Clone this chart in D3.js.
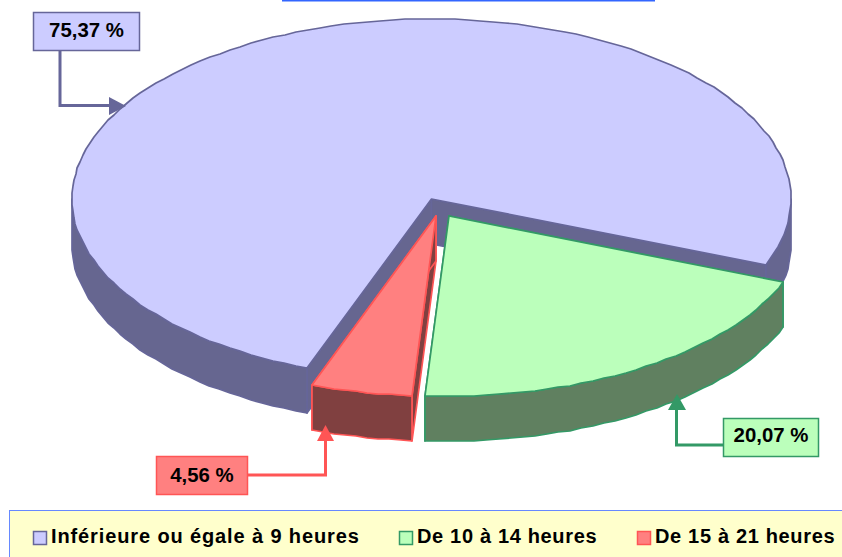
<!DOCTYPE html>
<html>
<head>
<meta charset="utf-8">
<script src="https://cdn.jsdelivr.net/npm/d3@7/dist/d3.min.js"></script>
<style>
html,body{margin:0;padding:0;background:#fff;overflow:hidden}
svg{display:block}
text{font-family:"Liberation Sans",Arial,sans-serif;font-weight:bold;fill:#000}
</style>
</head>
<body>
<svg id="c" width="842" height="557"></svg>
<script>
const categories = ["Inférieure ou égale à 9 heures", "De 10 à 14 heures", "De 15 à 21 heures"];
const values = [75.37, 20.07, 4.56];
const valueLabels = ["75,37 %", "20,07 %", "4,56 %"];
const topColors = ["#ccccff", "#bbffbb", "#ff8080"];
const wallColors = ["#666690", "#608060", "#804040"];
const lineColors = ["#666699", "#339966", "#ff5555"];

const W = 842, H = 557;
const cx = 431.5, cy = 199, rx = 359.5, ry = 180, depth = 45;
const explode = [[0, 0], [17.5, 17], [4.5, 17]];
const startDeg = 200.2;

const svg = d3.select("#c");
const sx = d3.scaleLinear().domain([-1, 1]).range([cx - rx, cx + rx]);
const sy = d3.scaleLinear().domain([-1, 1]).range([cy - ry, cy + ry]);
const pie = d3.pie().sort(null).startAngle(startDeg * Math.PI / 180)
  .endAngle((startDeg + 360) * Math.PI / 180);
const arcs = pie(values);
const line = d3.line();

function pt(a, off, dz) {
  return [Math.round(sx(Math.sin(a)) + off[0]), Math.round(sy(-Math.cos(a)) + off[1] + (dz || 0))];
}
function sweep(a0, a1) {
  const n = Math.max(2, Math.ceil((a1 - a0) / (2 * Math.PI / 180)));
  return d3.range(n + 1).map(i => a0 + (a1 - a0) * i / n);
}
function lowerRuns(a0, a1) {
  const runs = [];
  for (let k = -1; k < 3; k++) {
    const lo = Math.max(a0, Math.PI / 2 + 2 * Math.PI * k);
    const hi = Math.min(a1, 3 * Math.PI / 2 + 2 * Math.PI * k);
    if (hi > lo) runs.push([lo, hi]);
  }
  return runs;
}

arcs.forEach((d, i) => {
  const off = explode[i];
  const g = svg.append("g");
  const apex = [sx(0) + off[0], sy(0) + off[1]];
  const style = sel => sel.attr("stroke", lineColors[i]).attr("stroke-width", 1.7)
    .attr("stroke-linejoin", "round");

  // radial inner walls
  [d.startAngle, d.endAngle].forEach(a => {
    const e = pt(a, off);
    const pts = [apex, e, [e[0], e[1] + depth], [apex[0], apex[1] + depth]];
    g.append("path").attr("d", line(pts) + "Z").attr("fill", wallColors[i]).call(style);
  });
  // outer wall
  lowerRuns(d.startAngle, d.endAngle).forEach(r => {
    const as = sweep(r[0], r[1]);
    const pts = as.map(a => pt(a, off)).concat(as.slice().reverse().map(a => pt(a, off, depth)));
    g.append("path").attr("d", line(pts) + "Z").attr("fill", wallColors[i]).call(style);
  });
  // top face
  const top = [apex].concat(sweep(d.startAngle, d.endAngle).map(a => pt(a, off)));
  g.append("path").attr("d", line(top) + "Z").attr("fill", topColors[i]).call(style);
});

// fragment of the title box, cut by the top of the picture
svg.append("line").attr("x1", 282).attr("x2", 655).attr("y1", 0.5).attr("y2", 0.5)
  .attr("stroke", "#3366ff").attr("stroke-width", 2);

// value labels with leaders
const boxes = [
  {x: 33, y: 12, w: 106, h: 38, base: 25},
  {x: 723, y: 418, w: 95, h: 38, base: 24},
  {x: 156, y: 456, w: 91, h: 38, base: 25.5}
];
const leaders = [
  {path: [[60, 50], [60, 105.5], [110, 105.5]], head: [[109, 97], [109, 115], [126, 106]]},
  {path: [[723, 445], [676.5, 445], [676.5, 409]], head: [[668, 410], [686, 410], [677, 394]]},
  {path: [[247, 475], [325.5, 475], [325.5, 440]], head: [[317, 441], [334, 441], [325.5, 425]]}
];
leaders.forEach((l, i) => {
  svg.append("path").attr("d", line(l.path)).attr("fill", "none")
    .attr("stroke", lineColors[i]).attr("stroke-width", 3);
  svg.append("path").attr("d", line(l.head) + "Z").attr("fill", lineColors[i]);
});
boxes.forEach((b, i) => {
  svg.append("rect").attr("x", b.x + .5).attr("y", b.y + .5).attr("width", b.w).attr("height", b.h)
    .attr("fill", topColors[i]).attr("stroke", lineColors[i]).attr("stroke-width", 1.5);
  svg.append("text").attr("x", b.x + b.w / 2 + .5).attr("y", b.y + b.base).attr("text-anchor", "middle")
    .attr("font-size", 20.4).text(valueLabels[i]);
});

// legend
svg.append("rect").attr("x", 9.5).attr("y", 510.5).attr("width", 860).attr("height", 80)
  .attr("fill", "#ffffcc").attr("stroke", "#6688ff").attr("stroke-width", 1);
const swatchX = [33.5, 399.5, 637.5], textX = [51, 417, 655], spacing = [0.88, 0.66, 0.66];
categories.forEach((c, i) => {
  svg.append("rect").attr("x", swatchX[i]).attr("y", 531.5).attr("width", 13).attr("height", 13)
    .attr("fill", topColors[i]).attr("stroke", lineColors[i]).attr("stroke-width", 1.5);
  svg.append("text").attr("x", textX[i]).attr("y", 543).attr("font-size", 20)
    .attr("letter-spacing", spacing[i]).text(c);
});
</script>
</body>
</html>
